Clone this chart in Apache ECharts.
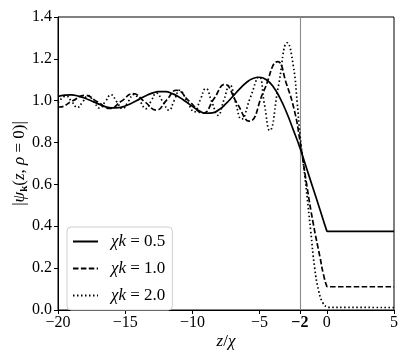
<!DOCTYPE html>
<html>
<head>
<meta charset="utf-8">
<script src="https://cdn.jsdelivr.net/npm/echarts@6/dist/echarts.min.js"></script>
<style>html,body{margin:0;padding:0;background:#fff}#c{width:415px;height:356px}</style>
</head>
<body>
<div id="c"></div>
<script>
// ---- data ----
const legendLabels = ['0.5', '1.0', '2.0'];
const xTicks = [-20, -15, -10, -5, -2, 0, 5];
const yTicks = [0, 0.2, 0.4, 0.6, 0.8, 1.0, 1.2, 1.4];
const markerX = -2;

const solidX = [-20,-19.5,-19,-18.5,-18,-17.5,-17,-16.5,-16,-15.5,-15,-14.5,-14,-13.5,-13,-12.5,-12,-11.5,-11,-10.5,-10,-9.5,-9,-8.5,-8,-7.5,-7,-6.5,-6,-5.5,-5,-4.5,-4,-3.5,-3,-2.5,-2,-1.5,-1,-0.5,0,0.05,5];
const solidY = [1.020,1.027,1.028,1.022,1.012,0.999,0.985,0.972,0.966,0.967,0.975,0.989,1.006,1.023,1.036,1.043,1.043,1.034,1.018,0.996,0.973,0.952,0.940,0.942,0.958,0.986,1.020,1.055,1.086,1.106,1.112,1.100,1.068,1.015,0.945,0.862,0.775,0.676,0.577,0.478,0.378,0.376,0.376];

const dashX = [-20,-19.9,-18.95,-18.0,-17.07,-16.15,-15.28,-14.42,-13.55,-12.68,-11.93,-11.19,-10.2,-9.2,-8.4,-7.6,-6.7,-5.77,-4.7,-3.65,-3.0,-2.4,-2.0,-1.5,-1.0,-0.5,-0.25,0,0.05,5];
const dashY = [0.971,0.970,0.998,1.026,0.995,0.963,0.998,1.034,0.995,0.955,1.002,1.050,0.995,0.940,1.009,1.078,0.990,0.902,1.045,1.187,1.080,0.950,0.810,0.600,0.410,0.250,0.170,0.113,0.111,0.111];

const dotX = [-20,-19.4,-18.97,-18.55,-18.15,-17.75,-17.33,-16.9,-16.48,-16.05,-15.63,-15.2,-14.78,-14.35,-13.9,-13.45,-13.07,-12.68,-12.2,-11.75,-11.35,-10.94,-10.4,-9.85,-9.43,-9.0,-8.55,-8.1,-7.66,-7.22,-6.8,-6.35,-5.7,-5.04,-4.65,-4.25,-3.6,-2.93,-2.5,-2.2,-2.0,-1.6,-1.2,-0.9,-0.6,-0.3,0,0.05,5];
const dotY = [0.990,1.022,0.995,0.968,0.996,1.025,0.995,0.965,0.996,1.028,0.995,0.962,0.996,1.030,0.996,0.962,0.999,1.036,0.995,0.955,1.002,1.050,0.998,0.947,1.002,1.058,0.994,0.930,1.003,1.076,0.994,0.912,1.013,1.114,0.986,0.858,1.070,1.277,1.170,0.990,0.840,0.620,0.380,0.200,0.090,0.035,0.013,0.012,0.012];

// ---- chart ----
const zip = (xs, ys) => xs.map((x, i) => [x, ys[i]]);
const FONT = 'Liberation Serif';
const minus = s => String(s).replace('-', '\u2212');
const lw = 1.7;

const mkSeries = (idx, xs, ys, type) => ({
  name: 'k' + idx,
  type: 'line',
  data: zip(xs, ys),
  symbol: 'none',
  smooth: 0.5,
  lineStyle: { color: '#000', width: lw, type: type, cap: 'butt' },
  itemStyle: { color: '#000' },
  z: 3
});

const s0 = mkSeries(0, solidX, solidY, 'solid');
s0.markLine = {
  silent: true, symbol: 'none', animation: false,
  label: { show: false },
  lineStyle: { color: '#8a8a8a', width: 1.1, type: 'solid' },
  data: [{ xAxis: markerX }],
  z: 1
};

const chart = echarts.init(document.getElementById('c'), null, { renderer: 'canvas' });
chart.setOption({
  animation: false,
  backgroundColor: '#fff',
  textStyle: { fontFamily: FONT, color: '#000' },
  grid: {
    left: 58, right: 21, top: 17, bottom: 46,
    show: true, borderColor: '#000', borderWidth: 1, backgroundColor: 'transparent',
    containLabel: false, outerBoundsMode: 'none'
  },
  legend: {
    orient: 'vertical', left: 67, top: 227,
    padding: [6, 7, 6, 5], itemGap: 10, itemWidth: 25, itemHeight: 14,
    backgroundColor: '#fff', borderColor: '#cfcfcf', borderWidth: 1, borderRadius: 4,
    itemStyle: { opacity: 0, borderWidth: 0 },
    data: ['k0', 'k1', 'k2'],
    formatter: n => '{i|\u03c7k} = ' + legendLabels[+n.slice(1)],
    textStyle: {
      fontFamily: FONT, fontSize: 17, color: '#000', padding: [0, 0, 0, 8],
      rich: { i: { fontFamily: FONT, fontStyle: 'italic', fontSize: 17, color: '#000' } }
    }
  },
  xAxis: {
    type: 'value', min: -20, max: 5,
    name: '{i|z}/{i|\u03c7}', nameLocation: 'middle', nameGap: 23, nameMoveOverlap: false,
    nameTextStyle: { fontFamily: FONT, fontSize: 17, color: '#000',
      rich: { i: { fontFamily: FONT, fontStyle: 'italic', fontSize: 17, color: '#000' } } },
    axisLine: { show: true, onZero: false, lineStyle: { color: '#000', width: 1 } },
    axisTick: { show: true, inside: false, length: 4, lineStyle: { color: '#000', width: 1 }, customValues: xTicks },
    axisLabel: {
      customValues: xTicks, margin: 5, fontFamily: FONT, fontSize: 16, color: '#000',
      formatter: v => v === markerX ? '{b|' + minus(v) + '}' : minus(v),
      rich: { b: { fontFamily: FONT, fontWeight: 'bold', fontSize: 16, color: '#000' } }
    },
    splitLine: { show: false }
  },
  yAxis: {
    type: 'value', min: 0, max: 1.4, interval: 0.2,
    name: '|{i|\u03c8}{s|k}({i|z}, {i|\u03c1} = 0)|', nameLocation: 'middle', nameGap: 28, nameRotate: 90,
    nameMoveOverlap: false,
    nameTextStyle: { fontFamily: FONT, fontSize: 17, color: '#000', lineHeight: 20,
      rich: {
        i: { fontFamily: FONT, fontStyle: 'italic', fontSize: 17, color: '#000', lineHeight: 20 },
        s: { fontFamily: FONT, fontWeight: 'bold', fontSize: 11, color: '#000', lineHeight: 9, verticalAlign: 'bottom' }
      } },
    axisLine: { show: true, onZero: false, lineStyle: { color: '#000', width: 1 } },
    axisTick: { show: true, inside: false, length: 4, lineStyle: { color: '#000', width: 1 } },
    axisLabel: { margin: 6, fontFamily: FONT, fontSize: 16, color: '#000',
      formatter: v => v.toFixed(1) },
    splitLine: { show: false }
  },
  series: [
    s0,
    mkSeries(1, dashX, dashY, [5.5, 2.4]),
    mkSeries(2, dotX, dotY, [1.5, 2.5])
  ]
});
</script>
</body>
</html>
